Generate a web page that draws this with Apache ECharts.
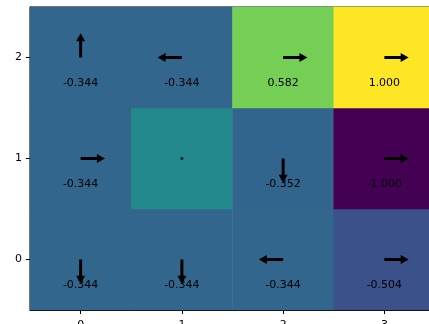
<!DOCTYPE html>
<html>
<head>
<meta charset="utf-8">
<script src="https://cdn.jsdelivr.net/npm/echarts@6/dist/echarts.min.js"></script>
<style>html,body{margin:0;padding:0;background:#fff;}#c{width:429px;height:324px;}</style>
</head>
<body>
<div id="c"></div>
<script>
var xCategories = ['0', '1', '2', '3'];
var yCategories = ['0', '1', '2'];
// values by row, y = 0 (bottom) to y = 2 (top); null = wall cell
var valuesRow0 = [-0.344, -0.344, -0.344, -0.504];
var valuesRow1 = [-0.344, null, -0.352, -1.000];
var valuesRow2 = [-0.344, -0.344, 0.582, 1.000];
// policy arrows per row
var arrowsRow0 = ['down', 'down', 'left', 'right'];
var arrowsRow1 = ['right', 'dot', 'down', 'right'];
var arrowsRow2 = ['up', 'left', 'right', 'right'];
var wallValue = -0.06;

var valueRows = [valuesRow0, valuesRow1, valuesRow2];
var arrowRows = [arrowsRow0, arrowsRow1, arrowsRow2];

var heatData = [], arrowData = [], dotData = [];
for (var y = 0; y < valueRows.length; y++) {
  for (var x = 0; x < valueRows[y].length; x++) {
    var v = valueRows[y][x];
    if (v === null) {
      heatData.push({ value: [x, y, wallValue], label: { show: false } });
    } else {
      heatData.push({ value: [x, y, v] });
    }
    var d = arrowRows[y][x];
    if (d === 'dot') dotData.push([x, y]);
    else arrowData.push([x, y, d]);
  }
}

var viridis = ['#440154', '#482475', '#414487', '#355f8d', '#2a788e', '#21918c',
  '#22a884', '#44bf70', '#7ad151', '#bddf26', '#fde725'];

var dirs = { up: [0, -1], down: [0, 1], left: [-1, 0], right: [1, 0] };

function renderArrow(params, api) {
  var c = api.coord([api.value(0), api.value(1)]);
  var size = api.size([1, 1]);
  var d = dirs[arrowData[params.dataIndex][2]];
  var L = 0.24 * size[0];
  var hl = 8, hw = 4.5, sw = 1.5;
  var ux = d[0], uy = d[1];
  var px = -uy, py = ux;
  function P(a, b) { return [c[0] + ux * a + px * b, c[1] + uy * a + py * b]; }
  var pts = [P(0, -sw), P(L - hl, -sw), P(L - hl, -hw), P(L, 0), P(L - hl, hw), P(L - hl, sw), P(0, sw)];
  return { type: 'polygon', shape: { points: pts }, style: { fill: '#000' } };
}

var chart = echarts.init(document.getElementById('c'), null, { renderer: 'canvas' });
chart.setOption({
  animation: false,
  backgroundColor: '#fff',
  grid: { left: 30, top: 7, width: 405, height: 303, show: true, borderColor: '#000', borderWidth: 1,
    backgroundColor: 'transparent', containLabel: false, outerBoundsMode: 'none' },
  xAxis: {
    type: 'category', data: xCategories,
    axisLine: { show: true, lineStyle: { color: '#000', width: 1 } },
    axisTick: { show: true, alignWithLabel: true, length: 4, lineStyle: { color: '#000' } },
    axisLabel: { color: '#000', fontSize: 11, fontFamily: 'DejaVu Sans', margin: 10 },
    splitLine: { show: false }
  },
  yAxis: {
    type: 'category', data: yCategories,
    axisLine: { show: true, lineStyle: { color: '#000', width: 1 } },
    axisTick: { show: true, alignWithLabel: true, length: 4, lineStyle: { color: '#000' } },
    axisLabel: { color: '#000', fontSize: 11, fontFamily: 'DejaVu Sans', margin: 8 },
    splitLine: { show: false }
  },
  visualMap: {
    show: false, type: 'continuous', min: -1, max: 1, dimension: 2, seriesIndex: 0,
    inRange: { color: viridis }
  },
  series: [
    {
      type: 'heatmap', data: heatData, z: 1,
      label: {
        show: true, color: '#000', fontSize: 11, fontFamily: 'DejaVu Sans',
        offset: [0, 26],
        formatter: function (p) { return p.value[2].toFixed(3); }
      },
      itemStyle: { borderWidth: 0 },
      emphasis: { disabled: true }
    },
    {
      type: 'custom', data: arrowData, renderItem: renderArrow, z: 5,
      encode: { x: 0, y: 1 }, silent: true
    },
    {
      type: 'scatter', data: dotData, symbol: 'circle', symbolSize: 3,
      itemStyle: { color: '#000' }, z: 5, silent: true
    }
  ]
});
</script>
</body>
</html>
